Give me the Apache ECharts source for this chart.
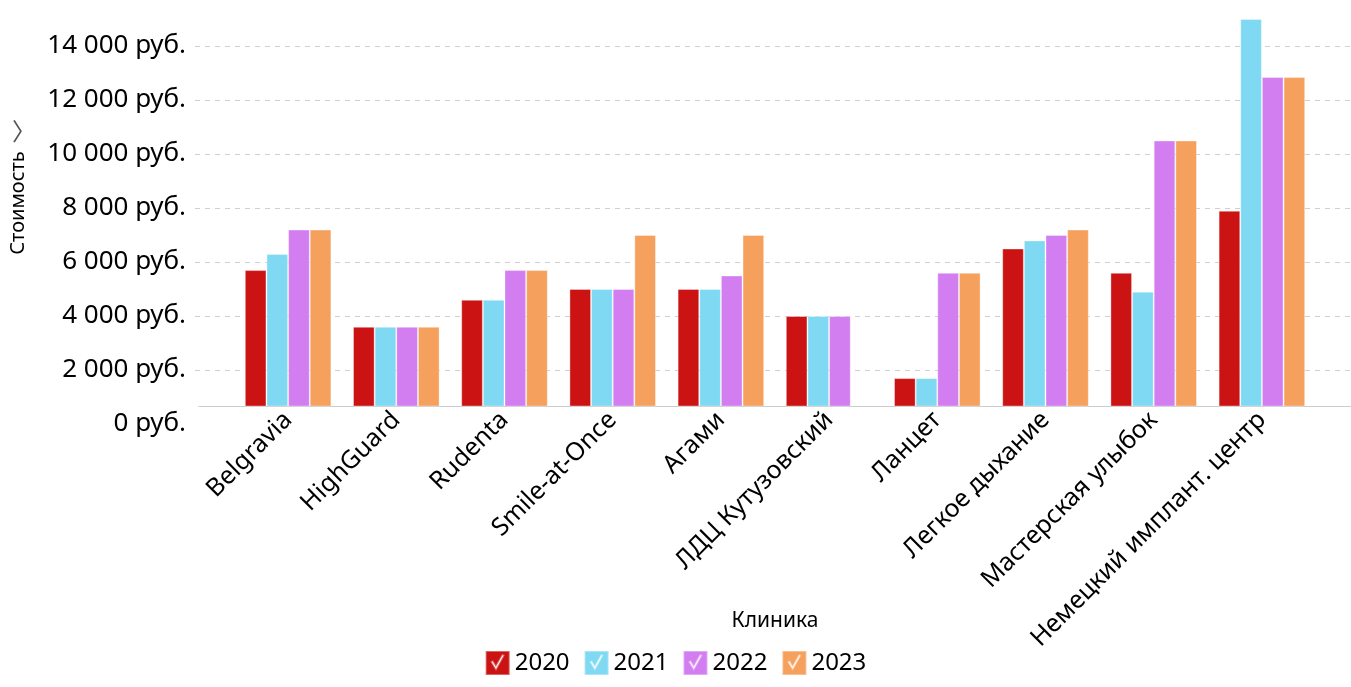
<!DOCTYPE html>
<html>
<head>
<meta charset="utf-8">
<script src="https://cdn.jsdelivr.net/npm/echarts@6/dist/echarts.min.js"></script>
<style>html,body{margin:0;padding:0;background:#fff}#c{width:1351px;height:687px}</style>
</head>
<body>
<div id="c"></div>
<script>
const categories = ['Belgravia','HighGuard','Rudenta','Smile-at-Once','Агами','ЛДЦ Кутузовский','Ланцет','Легкое дыхание','Мастерская улыбок','Немецкий имплант. центр'];
const years = ['2020','2021','2022','2023'];
const v2020 = [5700, 3600, 4600, 5000, 5000, 4000, 1700, 6500, 5600, 7900];
const v2021 = [6300, 3600, 4600, 5000, 5000, 4000, 1700, 6800, 4900, 15000];
const v2022 = [7200, 3600, 5700, 5000, 5500, 4000, 5600, 7000, 10500, 12850];
const v2023 = [7200, 3600, 5700, 7000, 7000, null, 5600, 7200, 10500, 12850];
const yTicks = {min: 0, max: 14000, interval: 2000};

const colors = ['#CC1313', '#7FD9F2', '#D27DF0', '#F5A05C'];
const FONT = 'Noto Sans';

// pixel layout
const H = 687;
const labelBottom = 424;   // y of value 0 on label scale
const axisY = 406;         // visible x-axis baseline
const topY14 = 46;         // y of 14000
const pxPerUnit = (labelBottom - topY14) / yTicks.max;
const barMin = (labelBottom - axisY) / pxPerUnit;
const barTop = 19;
const barMax = yTicks.max + (topY14 - barTop) / pxPerUnit;

const checkIcon = 'path://M0 0L24 0L24 24L0 24Z M6 11L10.3 18L17.8 4.6L16.8 4.2L10.2 16L7 10.5Z';

function fmt(v) {
  return String(v).replace(/\B(?=(\d{3})+(?!\d))/g, ' ') + ' руб.';
}

const seriesData = [v2020, v2021, v2022, v2023];
const chart = echarts.init(document.getElementById('c'), null, {renderer: 'canvas'});
chart.setOption({
  animation: false,
  backgroundColor: '#fff',
  textStyle: {fontFamily: FONT},
  title: {
    text: '〉',
    left: 7, top: 114,
    textStyle: {fontFamily: 'Noto Sans CJK SC', fontSize: 24, fontWeight: 'normal', color: '#555'}
  },
  legend: {
    data: years.map((y, i) => ({name: y, icon: checkIcon, itemStyle: {color: colors[i]}})),
    left: 'center', top: 645,
    itemWidth: 24, itemHeight: 24, itemGap: 14,
    textStyle: {fontFamily: FONT, fontSize: 24, color: '#000'}
  },
  grid: [
    {left: 193, right: 0, top: topY14, bottom: H - labelBottom},
    {left: 199, right: 0, top: topY14, bottom: H - axisY},
    {left: 234, right: 35, top: barTop, bottom: H - axisY}
  ],
  xAxis: [
    {gridIndex: 0, type: 'category', data: categories, show: false},
    {gridIndex: 1, type: 'category', data: categories,
      axisLine: {show: true, lineStyle: {color: '#cccccc', width: 1}},
      axisTick: {show: false}, axisLabel: {show: false}, splitLine: {show: false}},
    {gridIndex: 2, type: 'category', data: categories,
      axisLine: {show: false}, axisTick: {show: false},
      axisLabel: {rotate: 45, fontSize: 25, margin: 10, color: '#000', fontFamily: FONT, interval: 0},
      name: 'Клиника', nameLocation: 'middle', nameGap: 205, nameMoveOverlap: false,
      nameTextStyle: {fontSize: 21, color: '#000', fontFamily: FONT}}
  ],
  yAxis: [
    {gridIndex: 0, type: 'value', min: yTicks.min, max: yTicks.max, interval: yTicks.interval,
      axisLine: {show: false}, axisTick: {show: false},
      axisLabel: {formatter: fmt, fontSize: 26, color: '#000', margin: 9, fontFamily: FONT},
      splitLine: {show: true, showMinLine: false, lineStyle: {color: '#d0d0d0', type: [5, 5], width: 1}},
      name: 'Стоимость', nameLocation: 'middle', nameRotate: 90, nameGap: 167, nameMoveOverlap: false,
      nameTextStyle: {fontSize: 20, color: '#000', fontFamily: FONT, padding: [0, 0, 0, 64]}},
    {gridIndex: 1, type: 'value', min: 0, max: 1, show: false},
    {gridIndex: 2, type: 'value', min: barMin, max: barMax, show: false}
  ],
  series: years.map((y, i) => ({
    name: y, type: 'bar', xAxisIndex: 2, yAxisIndex: 2,
    data: seriesData[i],
    clip: true,
    barGap: '0%', barCategoryGap: '20%',
    itemStyle: {color: colors[i], borderColor: 'rgba(255,255,255,0.35)', borderWidth: 1}
  }))
});
</script>
</body>
</html>
